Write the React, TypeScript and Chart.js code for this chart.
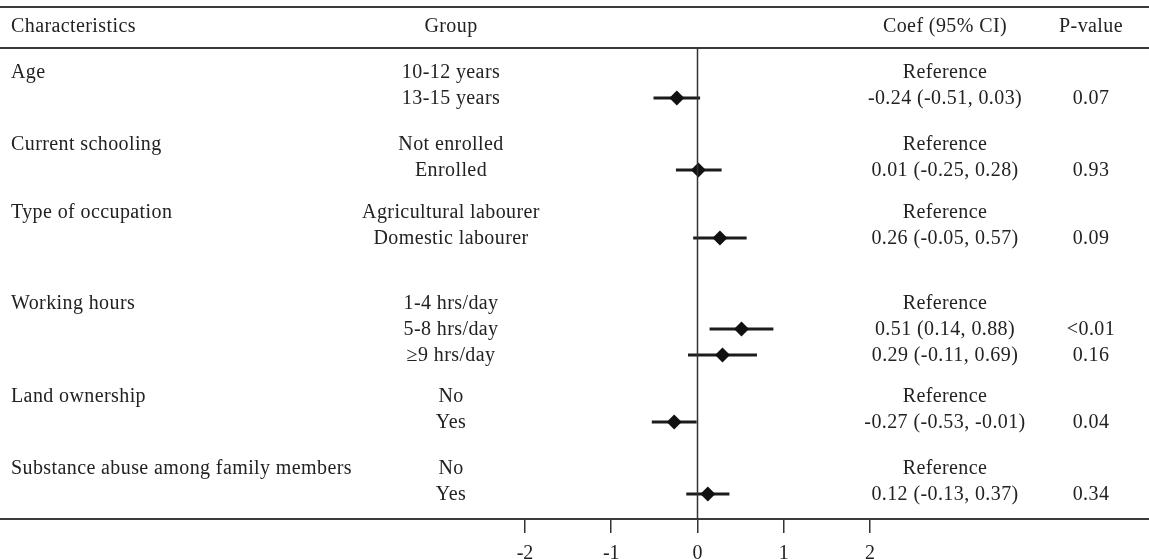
import React, { useEffect, useRef } from "react";
import { Chart, registerables } from "chart.js";

Chart.register(...registerables);

// ---- data ----
const characteristics = [
  "Age",
  "Current schooling",
  "Type of occupation",
  "Working hours",
  "Land ownership",
  "Substance abuse among family members",
];
const groupIndex = [0, 0, 1, 1, 2, 2, 3, 3, 3, 4, 4, 5, 5];
const groupLabels = [
  "10-12 years",
  "13-15 years",
  "Not enrolled",
  "Enrolled",
  "Agricultural labourer",
  "Domestic labourer",
  "1-4 hrs/day",
  "5-8 hrs/day",
  "≥9 hrs/day",
  "No",
  "Yes",
  "No",
  "Yes",
];
// row positions (in row units, top to bottom)
const rowPos = [0, 1, 2.77, 3.77, 5.38, 6.38, 8.88, 9.88, 10.88, 12.46, 13.46, 15.23, 16.23];
const coef: (number | null)[] = [null, -0.24, null, 0.01, null, 0.26, null, 0.51, 0.29, null, -0.27, null, 0.12];
const ciLow: (number | null)[] = [null, -0.51, null, -0.25, null, -0.05, null, 0.14, -0.11, null, -0.53, null, -0.13];
const ciHigh: (number | null)[] = [null, 0.03, null, 0.28, null, 0.57, null, 0.88, 0.69, null, -0.01, null, 0.37];
const coefText = [
  "Reference",
  "-0.24 (-0.51, 0.03)",
  "Reference",
  "0.01 (-0.25, 0.28)",
  "Reference",
  "0.26 (-0.05, 0.57)",
  "Reference",
  "0.51 (0.14, 0.88)",
  "0.29 (-0.11, 0.69)",
  "Reference",
  "-0.27 (-0.53, -0.01)",
  "Reference",
  "0.12 (-0.13, 0.37)",
];
const pValues = ["", "0.07", "", "0.93", "", "0.09", "", "<0.01", "0.16", "", "0.04", "", "0.34"];
const xTicks = [-2, -1, 0, 1, 2];
const headers = ["Characteristics", "Group", "Coef (95% CI)", "P-value"];

const FONT = '20px "Liberation Serif", "DejaVu Serif", serif';
const TEXT_COLOR = "#222";
const LINE_COLOR = "#3a3a3a";

export default function App() {
  const ref = useRef<HTMLCanvasElement | null>(null);

  useEffect(() => {
    const canvas = ref.current;
    if (!canvas) return;

    const ciDatasets: any[] = [];
    const points: any[] = [];
    rowPos.forEach((p, i) => {
      if (coef[i] !== null) {
        ciDatasets.push({
          type: "line",
          data: [
            { x: ciLow[i], y: p },
            { x: ciHigh[i], y: p },
          ],
          borderColor: "#1c1c1c",
          borderWidth: 3,
          pointRadius: 0,
          order: 2,
        });
        points.push({ x: coef[i], y: p });
      }
    });

    const textPlugin = {
      id: "forestText",
      afterDraw(chart: any) {
        const { ctx, chartArea, scales } = chart;
        const xs = scales.x;
        const ys = scales.y;
        const W = chart.width;
        ctx.save();
        // rules
        ctx.strokeStyle = LINE_COLOR;
        ctx.lineWidth = 2;
        ctx.beginPath();
        ctx.moveTo(0, 7);
        ctx.lineTo(W, 7);
        ctx.moveTo(0, 48);
        ctx.lineTo(W, 48);
        ctx.stroke();
        // zero line
        const x0 = Math.round(xs.getPixelForValue(0)) + 0.5;
        ctx.lineWidth = 1.5;
        ctx.strokeStyle = "#333";
        ctx.beginPath();
        ctx.moveTo(x0, chartArea.top);
        ctx.lineTo(x0, chartArea.bottom);
        ctx.stroke();

        ctx.font = FONT;
        try {
          (ctx as any).letterSpacing = "0.4px";
        } catch (e) {}
        ctx.fillStyle = TEXT_COLOR;
        ctx.textBaseline = "middle";
        const colX = [11, 451, 945, 1091];
        const colAlign = ["left", "center", "center", "center"];
        headers.forEach((h, k) => {
          ctx.textAlign = colAlign[k];
          ctx.fillText(h, colX[k], 27);
        });
        rowPos.forEach((p, i) => {
          const y = ys.getPixelForValue(p) + 1;
          if (i === 0 || groupIndex[i] !== groupIndex[i - 1]) {
            ctx.textAlign = "left";
            ctx.fillText(characteristics[groupIndex[i]], colX[0], y);
          }
          ctx.textAlign = "center";
          ctx.fillText(groupLabels[i], colX[1], y);
          ctx.fillText(coefText[i], colX[2], y);
          if (pValues[i]) ctx.fillText(pValues[i], colX[3], y);
        });
        try {
          (ctx as any).letterSpacing = "0px";
        } catch (e) {}
        ctx.restore();
      },
    };

    const chart = new Chart(canvas, {
      type: "scatter",
      data: {
        datasets: [
          {
            type: "scatter",
            data: points,
            pointStyle: "rectRot",
            pointRadius: 7.5,
            backgroundColor: "#111",
            borderColor: "#111",
            borderWidth: 0,
            order: 0,
          },
          ...ciDatasets,
        ],
      },
      options: {
        animation: false,
        responsive: false,
        devicePixelRatio: 1,
        layout: { autoPadding: false, padding: { top: 48, left: 0, right: 0, bottom: 0 } },
        plugins: { legend: { display: false }, tooltip: { enabled: false } },
        scales: {
          x: {
            type: "linear",
            min: -8.087,
            max: 5.235,
            afterBuildTicks: (scale: any) => {
              scale.ticks = xTicks.map((v) => ({ value: v }));
            },
            afterFit: (scale: any) => {
              scale.height = 40;
            },
            grid: {
              drawOnChartArea: false,
              drawTicks: true,
              tickLength: 14,
              color: "#333",
              lineWidth: 1.5,
            },
            border: { display: true, color: LINE_COLOR, width: 2 },
            ticks: {
              font: { family: '"Liberation Serif", serif', size: 20 },
              color: TEXT_COLOR,
              padding: 9,
              maxRotation: 0,
              autoSkip: false,
              callback: (v: any) => String(v),
            },
          },
          y: {
            type: "linear",
            display: false,
            reverse: true,
            min: -0.923,
            max: 17.19,
          },
        },
      },
      plugins: [textPlugin],
    } as any);

    return () => chart.destroy();
  }, []);

  return (
    <div style={{ position: "absolute", left: 0, top: 0, width: 1149, height: 559, background: "#fff" }}>
      <canvas ref={ref} width={1149} height={559} style={{ display: "block" }} />
    </div>
  );
}
